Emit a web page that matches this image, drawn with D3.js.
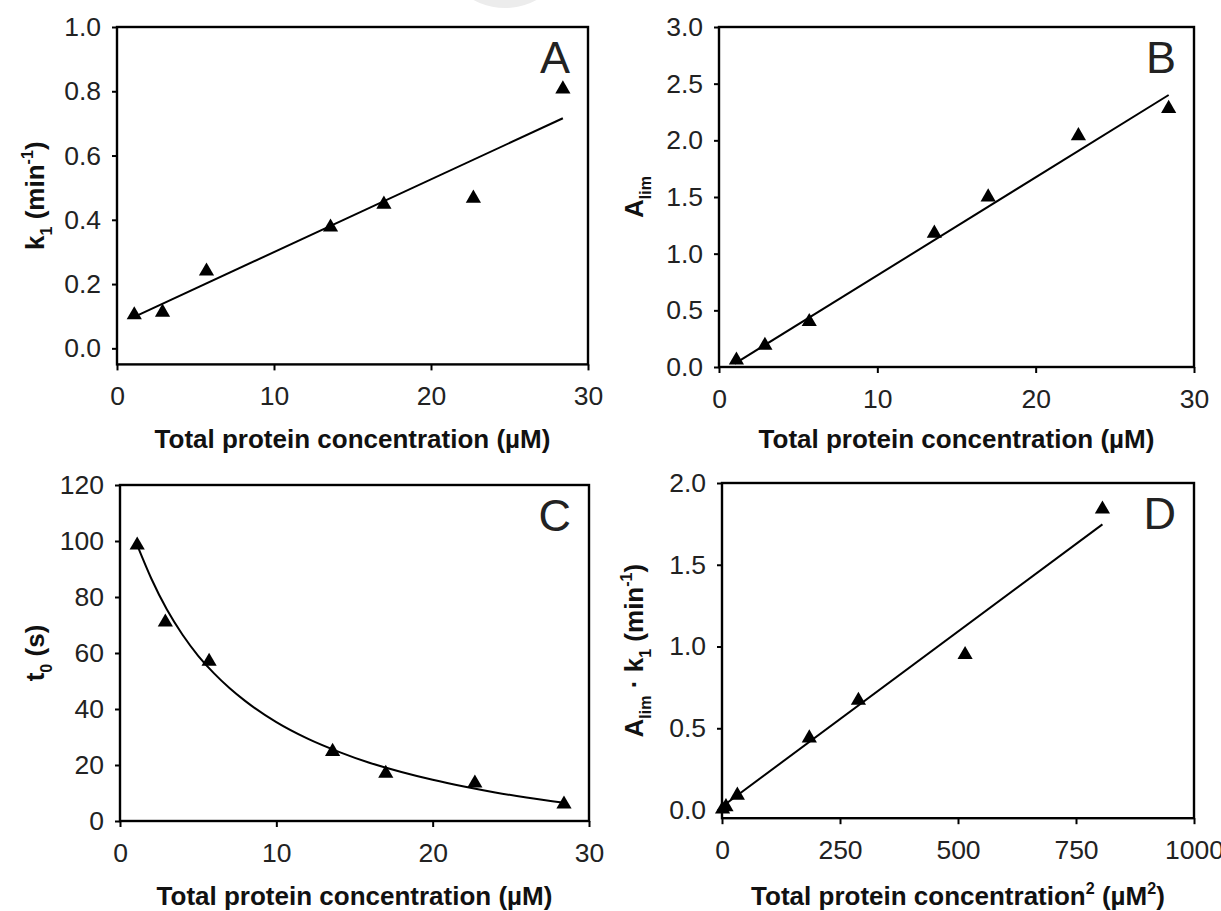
<!DOCTYPE html>
<html>
<head>
<meta charset="utf-8">
<script src="https://cdn.jsdelivr.net/npm/d3@7"></script>
<style>
  html, body { margin: 0; padding: 0; background: #fff; }
  svg { display: block; }
  text { font-family: "Liberation Sans", Arial, Helvetica, sans-serif; }
</style>
</head>
<body>
<svg id="chart" width="1221" height="911"></svg>
<script>
// ---------------- data ----------------
const concentration = [1.1, 2.9, 5.7, 13.6, 17.0, 22.7, 28.4];          // µM
const k1Values      = [0.104, 0.112, 0.240, 0.377, 0.448, 0.467, 0.807];  // min^-1
const aLimValues    = [0.06, 0.19, 0.40, 1.18, 1.50, 2.04, 2.28];
const t0Values      = [98.5, 71, 57, 24.8, 17, 13.5, 6];                  // s
const concSquared   = [1.2, 8.4, 32.5, 185, 289, 515, 806];               // µM^2
const productValues = [0.005, 0.02, 0.09, 0.44, 0.67, 0.95, 1.84];        // Alim·k1

// fitted lines / curve
const fitAx = [1.1, 28.4];
const fitAy = [0.098, 0.716];
const fitBx = [1.0, 28.4];
const fitBy = [0.03, 2.40];
const fitCx = [1.1, 2, 3, 4, 5, 6, 7, 8, 10, 12, 14, 16, 18, 20, 22, 24, 26, 28.4];
const fitCy = [98.5, 86.6, 75.5, 66.5, 59.0, 52.8, 47.5, 42.9, 35.3, 29.4, 24.7, 20.7, 17.5, 14.7, 12.3, 10.2, 8.4, 6.5];
const fitDx = [1.2, 806];
const fitDy = [0.023, 1.747];

// tick values
const ticksConc    = [0, 10, 20, 30];
const ticksConcSq  = [0, 250, 500, 750, 1000];
const ticksK1      = [0.0, 0.2, 0.4, 0.6, 0.8, 1.0];
const ticksALim    = [0.0, 0.5, 1.0, 1.5, 2.0, 2.5, 3.0];
const ticksT0      = [0, 20, 40, 60, 80, 100, 120];
const ticksProduct = [0.0, 0.5, 1.0, 1.5, 2.0];

const panelLetters = ["A", "B", "C", "D"];

// ---------------- drawing ----------------
const svg = d3.select("#chart");

// faint watermark blob at the top of the reference image
svg.append("circle").attr("cx", 505).attr("cy", -58).attr("r", 66).attr("fill", "#ececec");

const zip = (a, b) => a.map((v, i) => [v, b[i]]);

const panels = [
  { letter: panelLetters[0], xr: [117, 588], yr: [364.4, 27], xd: [0, 30], yd: [-0.05, 1.0],
    xt: ticksConc, yt: ticksK1, yfmt: d3.format(".1f"), xfmt: d3.format("d"),
    pts: zip(concentration, k1Values), fit: zip(fitAx, fitAy), curve: d3.curveLinear,
    yTitle: [["k",0],["1",1],[" (min",0],["-1",2],[")",0]], yTitleX: 44,
    xTitle: [["Total protein concentration (\u00B5M)",0]], xTitleY: 448 },
  { letter: panelLetters[1], xr: [719, 1194], yr: [367, 27], xd: [0, 30], yd: [0, 3.0],
    xt: ticksConc, yt: ticksALim, yfmt: d3.format(".1f"), xfmt: d3.format("d"),
    pts: zip(concentration, aLimValues), fit: zip(fitBx, fitBy), curve: d3.curveLinear,
    yTitle: [["A",0],["lim",1]], yTitleX: 643,
    xTitle: [["Total protein concentration (\u00B5M)",0]], xTitleY: 448 },
  { letter: panelLetters[2], xr: [120, 589], yr: [821, 485], xd: [0, 30], yd: [0, 120],
    xt: ticksConc, yt: ticksT0, yfmt: d3.format("d"), xfmt: d3.format("d"),
    pts: zip(concentration, t0Values), fit: zip(fitCx, fitCy), curve: d3.curveMonotoneX,
    yTitle: [["t",0],["0",1],[" (s)",0]], yTitleX: 44,
    xTitle: [["Total protein concentration (\u00B5M)",0]], xTitleY: 905 },
  { letter: panelLetters[3], xr: [722, 1194], yr: [818.2, 483], xd: [0, 1000], yd: [-0.05, 2.0],
    xt: ticksConcSq, yt: ticksProduct, yfmt: d3.format(".1f"), xfmt: d3.format("d"),
    pts: zip(concSquared, productValues), fit: zip(fitDx, fitDy), curve: d3.curveLinear,
    yTitle: [["A",0],["lim",1],[" \u00B7 k",0],["1",1],[" (min",0],["-1",2],[")",0]], yTitleX: 643,
    xTitle: [["Total protein concentration",0],["2",2],[" (\u00B5M",0],["2",2],[")",0]], xTitleY: 905 }
];

function addRich(textSel, parts, fs) {
  // kind: 0 normal, 1 subscript, 2 superscript
  let shift = 0;
  parts.forEach(([s, kind]) => {
    const target = kind === 1 ? 0.3 * fs : kind === 2 ? -0.42 * fs : 0;
    textSel.append("tspan")
      .attr("dy", target - shift)
      .attr("font-size", kind === 0 ? fs : fs * 0.62)
      .text(s);
    shift = target;
  });
}

panels.forEach(p => {
  const x = d3.scaleLinear().domain(p.xd).range(p.xr);
  const y = d3.scaleLinear().domain(p.yd).range(p.yr);
  const g = svg.append("g");
  const left = p.xr[0], right = p.xr[1], top = p.yr[1], bottom = p.yr[0];

  // fit line
  g.append("path")
    .datum(p.fit)
    .attr("fill", "none")
    .attr("stroke", "#000")
    .attr("stroke-width", 2)
    .attr("d", d3.line().x(d => x(d[0])).y(d => y(d[1])).curve(p.curve));

  // points
  g.selectAll("path.pt").data(p.pts).enter().append("path")
    .attr("class", "pt")
    .attr("transform", d => `translate(${x(d[0])},${y(d[1])})`)
    .attr("d", d3.symbol(d3.symbolTriangle, 100))
    .attr("fill", "#000");

  // axes with d3 axis generators (ticks outward)
  const xAxis = d3.axisBottom(x).tickValues(p.xt).tickFormat(p.xfmt).tickSize(6).tickPadding(16);
  const yAxis = d3.axisLeft(y).tickValues(p.yt).tickFormat(p.yfmt).tickSize(5).tickPadding(11);

  const gx = g.append("g").attr("transform", `translate(0,${bottom})`).call(xAxis);
  const gy = g.append("g").attr("transform", `translate(${left},0)`).call(yAxis);
  [gx, gy].forEach(ax => {
    ax.select(".domain").remove();
    ax.selectAll(".tick line").attr("stroke", "#000").attr("stroke-width", 2);
    ax.selectAll(".tick text")
      .attr("font-family", "'Liberation Sans', Arial, sans-serif")
      .attr("font-size", 26.5)
      .attr("fill", "#222");
  });

  // frame
  g.append("rect")
    .attr("x", left).attr("y", top)
    .attr("width", right - left).attr("height", bottom - top)
    .attr("fill", "none").attr("stroke", "#000").attr("stroke-width", 2.4);

  // panel letter
  g.append("text")
    .attr("x", right - 18).attr("y", top + 46)
    .attr("text-anchor", "end")
    .attr("font-size", 45)
    .attr("fill", "#222")
    .text(p.letter);

  // x title
  const xt = g.append("text")
    .attr("x", (left + right) / 2).attr("y", p.xTitleY)
    .attr("text-anchor", "middle")
    .attr("font-weight", "bold")
    .attr("font-size", 26)
    .attr("fill", "#111");
  addRich(xt, p.xTitle, 26);

  // y title
  const yt = g.append("text")
    .attr("transform", `translate(${p.yTitleX},${(top + bottom) / 2}) rotate(-90)`)
    .attr("text-anchor", "middle")
    .attr("font-weight", "bold")
    .attr("font-size", 26)
    .attr("fill", "#111");
  addRich(yt, p.yTitle, 26);
});
</script>
</body>
</html>
